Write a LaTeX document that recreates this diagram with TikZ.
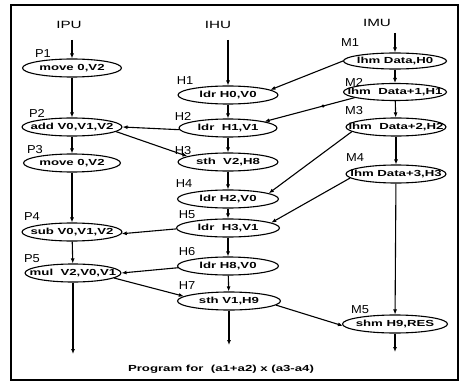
\documentclass[tikz,border=0pt]{standalone}
\usepackage{fontspec}
\setmainfont{Liberation Sans}
\newfontfamily\ellfont[FakeStretch=1.5]{Liberation Sans Bold}
\newfontfamily\labfont[FakeStretch=1.12]{Liberation Sans}
\newfontfamily\hdfont[FakeStretch=1.45]{Liberation Sans}
\usetikzlibrary{shapes.geometric,arrows.meta}
\newcommand\ctxt[1]{\makebox[0pt]{#1}}
\tikzset{
  ell/.style={ellipse,draw,line width=1.1pt,minimum width=100pt,minimum height=18pt,inner sep=0pt,
    font=\ellfont\fontsize{8.8}{10}\selectfont},
  lab/.style={inner sep=0pt,font=\labfont\fontsize{11.5}{13}\selectfont},
  hdr/.style={inner sep=0pt,font=\hdfont\fontsize{10.5}{12}\selectfont},
  flow/.style={line width=1.1pt,-{Latex[length=5pt,width=4pt]}},
  dotmark/.style={circle,fill,inner sep=0pt,minimum size=3.4pt},
  caption/.style={inner sep=0pt,font=\ellfont\fontsize{8.8}{10}\selectfont},
}
\begin{document}
\begin{tikzpicture}[x=1pt,y=-1pt]
\useasboundingbox (0,0) rectangle (462,382);
\draw[line width=1.3pt] (11,5) rectangle (458,380);

% headers
\node[hdr] (hIPU) at (69,25) {IPU};
\node[hdr] (hIHU) at (218,25) {IHU};
\node[hdr] (hIMU) at (377,23) {IMU};

% IPU column
\node[ell,minimum width=99pt] (P1) at (72,68) {\ctxt{move 0,V2}};
\node[ell] (P2) at (72,127) {\ctxt{add V0,V1,V2}};
\node[ell,minimum width=97pt] (P3) at (72,163) {\ctxt{move 0,V2}};
\node[ell] (P4) at (72,232) {\ctxt{sub V0,V1,V2}};
\node[ell,minimum width=96pt] (P5) at (73,273) {\ctxt{mul\ \ V2,V0,V1}};
\node[lab] (lP1) at (43,54) {P1};
\node[lab] (lP2) at (37,113) {P2};
\node[lab] (lP3) at (35,150) {P3};
\node[lab] (lP4) at (32,217) {P4};
\node[lab] (lP5) at (32,259) {P5};

% IHU column
\node[ell] (H1) at (228,95) {\ctxt{ldr H0,V0}};
\node[ell,minimum width=98pt] (H2) at (228,128) {\ctxt{ldr\ \ H1,V1}};
\node[ell] (H3) at (228,162) {\ctxt{sth\ \ V2,H8}};
\node[ell,minimum width=101pt] (H4) at (228,199) {\ctxt{ldr H2,V0}};
\node[ell,minimum width=103pt] (H5) at (228,228) {\ctxt{ldr\ \ H3,V1}};
\node[ell,minimum width=101pt] (H6) at (228,266) {\ctxt{ldr H8,V0}};
\node[ell,minimum width=103pt] (H7) at (229,301) {\ctxt{sth V1,H9}};
\node[lab] (lH1) at (185,81) {H1};
\node[lab] (lH2) at (183,116) {H2};
\node[lab] (lH3) at (183,151) {H3};
\node[lab] (lH4) at (184,184) {H4};
\node[lab] (lH5) at (187,215) {H5};
\node[lab] (lH6) at (187,252) {H6};
\node[lab] (lH7) at (187,286) {H7};

% IMU column
\node[ell,minimum width=103pt,minimum height=16pt] (M1) at (395,61) {\ctxt{lhm Data,H0}};
\node[ell,minimum width=103pt,minimum height=17pt] (M2) at (395,92) {\ctxt{lhm\ \ Data+1,H1}};
\node[ell] (M3) at (396,127) {\ctxt{lhm\ \ Data+2,H2}};
\node[ell] (M4) at (396,174) {\ctxt{lhm Data+3,H3}};
\node[ell,minimum width=105pt] (M5) at (395,324) {\ctxt{shm H9,RES}};
\node[lab] (lM1) at (350,43) {M1};
\node[lab] (lM2) at (354,82) {M2};
\node[lab] (lM3) at (354,111) {M3};
\node[lab] (lM4) at (355,158) {M4};
\node[lab] (lM5) at (360,310) {M5};

% caption
\node[caption] (cap) at (221,369) {Program for\ \ (a1+a2) x (a3-a4)};

% free ends
\coordinate (tP) at (72,40);
\coordinate (tH) at (228,40);
\coordinate (tM) at (395,33);
\coordinate (bP) at (73,354);
\coordinate (bH) at (229,345);
\coordinate (bM) at (395,352);

% vertical flows
\draw[flow] (tP) -- (P1);
\draw[flow] (P1) -- (P2);
\draw[flow] (P2) -- (P3);
\draw[flow] (P3) -- (P4);
\draw[flow] (P4) -- (P5);
\draw[flow] (P5) -- (bP);

\draw[flow] (tH) -- (H1);
\draw[flow] (H1) -- (H2);
\draw[flow] (H2) -- (H3);
\draw[flow] (H3) -- (H4);
\draw[flow] (H4) -- (H5);
\draw[flow] (H5) -- (H6);
\draw[flow] (H6) -- (H7);
\draw[flow] (H7) -- (bH);

\draw[flow] (tM) -- (M1);
\draw[flow] (M1) -- (M2);
\draw[flow] (M2) -- (M3);
\draw[flow] (M3) -- (M4);
\draw[flow] (M4) -- (M5);
\draw[flow] (M5) -- (bM);

% cross connections
\draw[flow] (M1.west) -- (H1.7);
\draw[flow] (M2.188) -- node[dotmark,pos=0.35] (d2) {} (H2.10);
\draw[flow] (H2.182) -- (P2.east);
\draw[flow] (P2.-6) -- (H3.172);
\draw[flow] (M3.186) -- (H4.8);
\draw[flow] (M4.185) -- (H5.7);
\draw[flow] (H5.181) -- (P4.-2);
\draw[flow] (H6.182) -- (P5.east);
\draw[flow] (P5.-7) -- (H7.174);
\draw[flow] (H7.-5) -- (M5.182);
\end{tikzpicture}
\end{document}
